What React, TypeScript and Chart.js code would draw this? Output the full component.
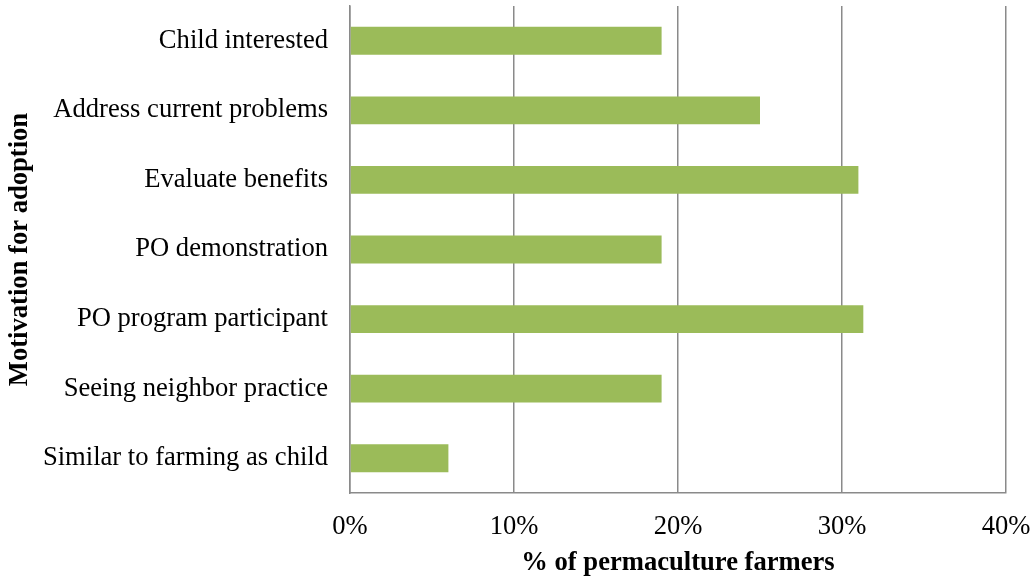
import React, { useEffect, useRef } from "react";
import { Chart, registerables } from "chart.js";

Chart.register(...registerables);

const categories = [
  "Child interested",
  "Address current problems",
  "Evaluate benefits",
  "PO demonstration",
  "PO program participant",
  "Seeing neighbor practice",
  "Similar to farming as child",
];
const values = [19, 25, 31, 19, 31.3, 19, 6];
const xTicks = [0, 10, 20, 30, 40];
const xTitle = "% of permaculture farmers";
const yTitle = "Motivation for adoption";

export default function App() {
  const ref = useRef<HTMLCanvasElement | null>(null);
  useEffect(() => {
    document.body.style.margin = "0";
    const ctx = ref.current!;
    const font = "'Liberation Serif', 'Times New Roman', serif";
    const zeroPad = (s: any) => {
      s.paddingTop = 0;
      s.paddingBottom = 0;
      s.paddingLeft = 0;
      s.paddingRight = 0;
    };
    const chart = new Chart(ctx, {
      type: "bar",
      data: {
        labels: categories,
        datasets: [
          {
            data: values,
            backgroundColor: "#9BBB59",
            borderWidth: 0,
            barPercentage: 0.8,
            categoryPercentage: 0.5,
          },
        ],
      },
      options: {
        indexAxis: "y",
        animation: false,
        responsive: false,
        devicePixelRatio: 1,
        layout: { padding: { top: 6, right: 28, left: 0, bottom: 0 } },
        plugins: { legend: { display: false }, tooltip: { enabled: false } },
        scales: {
          x: {
            min: 0,
            max: 40,
            afterBuildTicks: (s: any) => {
              s.ticks = xTicks.map((v) => ({ value: v }));
            },
            afterFit: (s: any) => {
              s.height = 86;
              zeroPad(s);
            },
            grid: { color: "#8a8a8a", lineWidth: 1.5, drawTicks: false },
            border: { display: true, color: "#8a8a8a", width: 1.5 },
            ticks: {
              padding: 18,
              color: "#000",
              font: { family: font, size: 26.6 },
              callback: (v: any) => v + "%",
            },
            title: {
              display: true,
              text: xTitle,
              color: "#000",
              font: { family: font, size: 26.6, weight: "bold" },
              padding: { top: 4, bottom: 0 },
            },
          },
          y: {
            afterFit: (s: any) => {
              s.width = 350;
              zeroPad(s);
            },
            grid: { display: false, drawTicks: false },
            border: { display: true, color: "#8a8a8a", width: 1.5 },
            ticks: {
              padding: 22,
              color: "#000",
              font: { family: font, size: 26.6 },
            },
            title: {
              display: true,
              text: yTitle,
              color: "#000",
              font: { family: font, size: 26.6, weight: "bold" },
              padding: { top: 4, bottom: 0 },
            },
          },
        },
      },
    });
    return () => chart.destroy();
  }, []);
  return (
    <div style={{ width: 1034, height: 579 }}>
      <canvas ref={ref} width={1034} height={579} />
    </div>
  );
}
